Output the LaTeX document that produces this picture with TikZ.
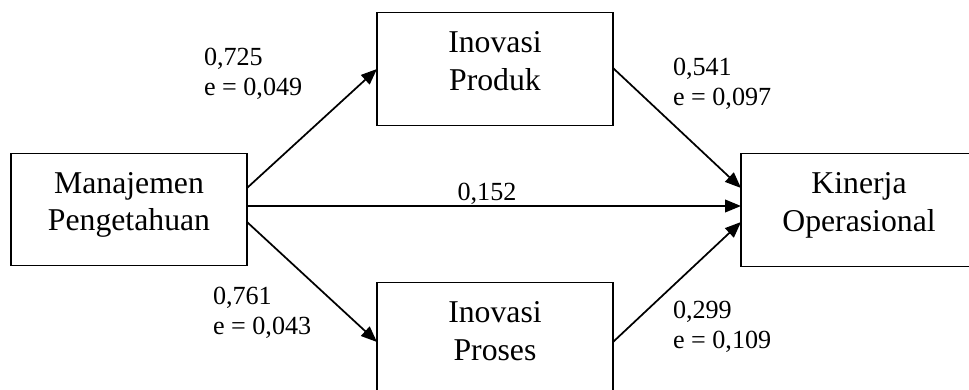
\documentclass[tikz,border=0pt]{standalone}
\usepackage{fontspec}
\setmainfont{Liberation Serif}
\usetikzlibrary{arrows.meta,calc}
\newcommand\bxtext[2]{\rule{0pt}{21.75pt}#1\\#2\rule[-18pt]{0pt}{18pt}}
\newcommand\lbtext[2]{\rule{0pt}{15pt}#1\\#2}
\tikzset{
  varbox/.style={draw, line width=0.9pt, inner sep=0pt, outer sep=0pt,
    minimum width=177pt, minimum height=84.4pt, align=center,
    font=\fontsize{23.8}{28.1}\selectfont},
  coef/.style={inner sep=0pt, outer sep=0pt, align=left, anchor=north west,
    font=\fontsize{19.6}{22.5}\selectfont},
  path/.style={line width=1.3pt, -{Triangle[length=12pt,width=9.5pt]}}
}
\begin{document}
\begin{tikzpicture}[x=0.75pt,y=-0.75pt]
\clip (0,0) rectangle (969,389);
\fill[white] (0,0) rectangle (969,389);
\node[varbox] (MP)  at (129,209.5) {\bxtext{Manajemen}{Pengetahuan}};
\node[varbox] (IP)  at (495,69)    {\bxtext{Inovasi}{Produk}};
\node[varbox] (IPr) at (495,339)   {\bxtext{Inovasi}{Proses}};
\node[varbox] (KO)  at (859,210)   {\bxtext{Kinerja}{Operasional}};
\draw[path] ($(MP.east)+(0,-21.5)$) -- (IP.west);
\draw[path] ($(MP.east)+(0,-3.5)$) -- ($(KO.west)+(0,-4)$);
\draw[path] ($(MP.east)+(0,12.5)$) -- ($(IPr.west)+(0,3)$);
\draw[path] ($(IP.east)+(0,-1)$) -- ($(KO.west)+(0,-22)$);
\draw[path] ($(IPr.east)+(0,3)$) -- ($(KO.west)+(0,12)$);
\node[coef] (l1) at (204,45)  {\lbtext{0,725}{e = 0,049}};
\node[coef] (l2) at (673,55)  {\lbtext{0,541}{e = 0,097}};
\node[coef] (l3) at (213,284) {\lbtext{0,761}{e = 0,043}};
\node[coef] (l4) at (673,298) {\lbtext{0,299}{e = 0,109}};
\node[inner sep=0pt, anchor=base, font=\fontsize{19.6}{22.5}\selectfont] (l5) at (487,200) {0,152};
\end{tikzpicture}
\end{document}
